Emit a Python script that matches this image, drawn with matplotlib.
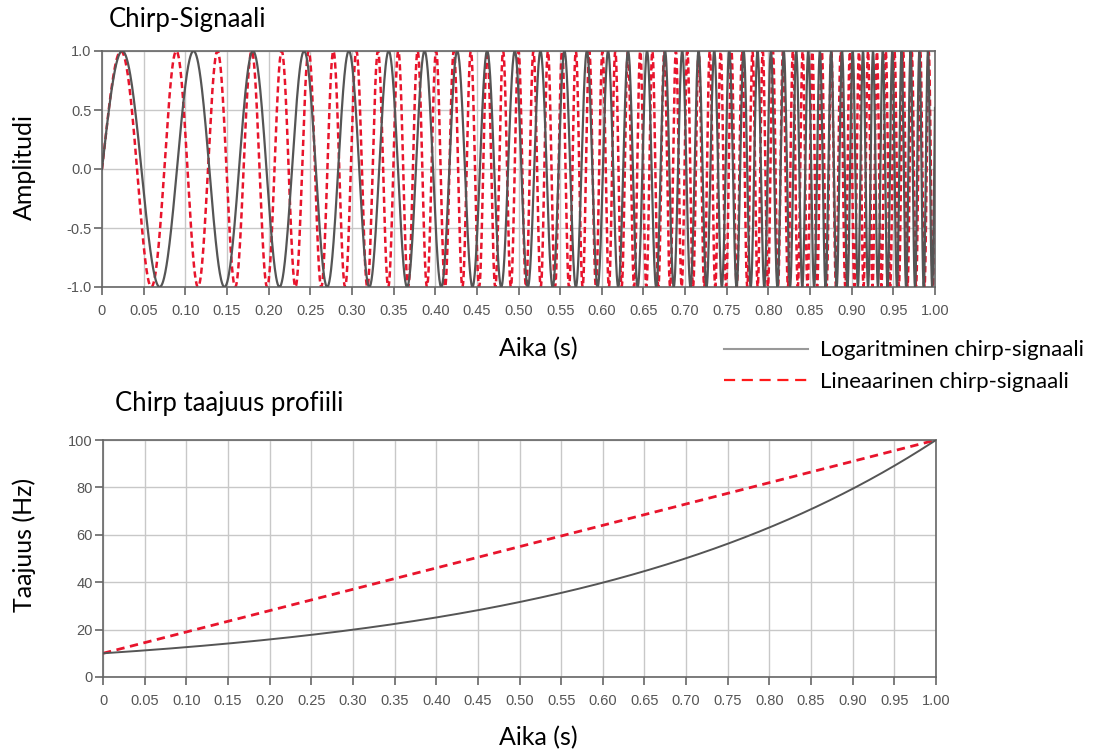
import numpy as np
import matplotlib
matplotlib.use("Agg")
import matplotlib.pyplot as plt
from matplotlib.lines import Line2D

# ---- data ----
f_start = 10.0      # Hz
f_end = 100.0       # Hz
duration = 1.0      # s
n_samples = 2001
x_ticks = [round(0.05 * i, 2) for i in range(21)]
x_ticklabels = ["0"] + [f"{v:.2f}" for v in x_ticks[1:]]
amp_ticks = [-1.0, -0.5, 0.0, 0.5, 1.0]
amp_ticklabels = ["-1.0", "-0.5", "0.0", "0.5", "1.0"]
freq_ticks = [0, 20, 40, 60, 80, 100]
series_names = ["Logaritminen chirp-signaali", "Lineaarinen chirp-signaali"]

t = np.linspace(0, duration, n_samples)
ratio = f_end / f_start
# logarithmic chirp
f_log = f_start * ratio ** (t / duration)
ph_log = 2 * np.pi * f_start * duration / np.log(ratio) * (ratio ** (t / duration) - 1)
# linear chirp
f_lin = f_start + (f_end - f_start) * t / duration
ph_lin = 2 * np.pi * (f_start * t + (f_end - f_start) / (2 * duration) * t ** 2)
sig_log = np.sin(ph_log)
sig_lin = np.sin(ph_lin)

GRAY = "#555555"
RED = "#e8142c"
TICKC = "#555555"
label_font = "Lato"
tick_font = "Liberation Sans"

fig = plt.figure(figsize=(10.98, 7.55), dpi=100)
W, H = 1098, 755

def axes_px(l, t_, r, b):
    return fig.add_axes([l / W, 1 - b / H, (r - l) / W, (b - t_) / H])

ax1 = axes_px(102, 51, 935, 287)
ax2 = axes_px(103, 440, 936, 677)

def style(ax):
    ax.grid(True, color="#c8c8c8", lw=1.0)
    ax.set_axisbelow(True)
    for s in ax.spines.values():
        s.set_color("#666666")
        s.set_linewidth(1.2)
    ax.tick_params(direction="out", length=5.5, width=1.2, color="#666666",
                   labelcolor=TICKC, labelsize=10.5)
    ax.tick_params(axis="x", pad=6.5)
    ax.tick_params(axis="y", pad=2)
    ax.set_xlim(0, 1.0)
    ax.set_xticks(x_ticks)
    ax.set_xticklabels(x_ticklabels, fontfamily=tick_font)

# top plot
ax1.plot(t, sig_log, color=GRAY, lw=1.6, zorder=3)
ax1.plot(t, sig_lin, color=RED, lw=1.8, dashes=(2.5, 1.5), zorder=2)
ax1.set_ylim(-1.0, 1.0)
ax1.set_yticks(amp_ticks)
ax1.set_yticklabels(amp_ticklabels, fontfamily=tick_font)
style(ax1)

# bottom plot
ax2.plot(t, f_log, color=GRAY, lw=1.4, zorder=3)
ax2.plot(t, f_lin, color=RED, lw=2.0, dashes=(3, 2), zorder=2)
ax2.set_ylim(0, 100)
ax2.set_yticks(freq_ticks)
ax2.set_yticklabels([str(v) for v in freq_ticks], fontfamily=tick_font)
style(ax2)

# texts
fig.text(109 / W, 1 - 19 / H, "Chirp-Signaali", fontsize=18.5, fontfamily=label_font, va="center", ha="left")
fig.text(115 / W, 1 - 404 / H, "Chirp taajuus profiili", fontsize=18.5, fontfamily=label_font, va="center", ha="left")
fig.text(24 / W, 1 - 167 / H, "Amplitudi", fontsize=18, fontfamily=label_font, rotation=90, va="center", ha="center")
fig.text(24 / W, 1 - 545 / H, "Taajuus (Hz)", fontsize=18, fontfamily=label_font, rotation=90, va="center", ha="center")
fig.text(538 / W, 1 - 349 / H, "Aika (s)", fontsize=18, fontfamily=label_font, va="center", ha="center")
fig.text(538 / W, 1 - 738 / H, "Aika (s)", fontsize=18, fontfamily=label_font, va="center", ha="center")

# legend
handles = [Line2D([], [], color="#999999", lw=1.5),
           Line2D([], [], color="#ff1a1a", lw=1.6, dashes=(5, 3))]
leg = fig.legend(handles, series_names, loc="center left",
                 bbox_to_anchor=(704 / W, 1 - 366 / H), frameon=False,
                 handlelength=3.8, handletextpad=0.5, labelspacing=0.5,
                 prop={"family": label_font, "size": 16})

fig.savefig("out.png", dpi=100)
